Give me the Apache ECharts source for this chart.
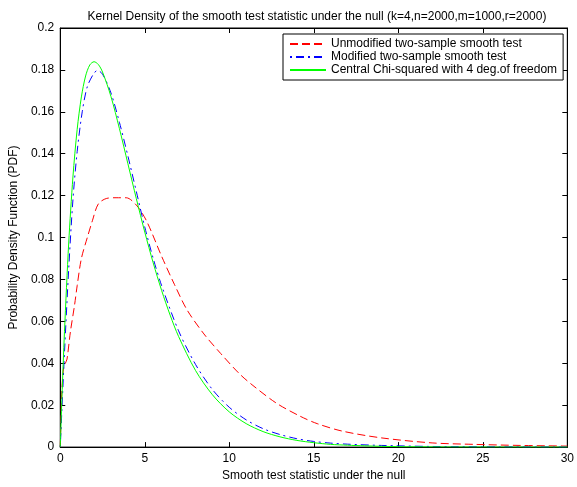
<!DOCTYPE html>
<html>
<head>
<meta charset="utf-8">
<script src="https://cdn.jsdelivr.net/npm/echarts@6/dist/echarts.min.js"></script>
<style>
  html, body { margin: 0; padding: 0; background: #fff; }
  #chart { width: 577px; height: 487px; }
</style>
</head>
<body>
<div id="chart"></div>
<script>
// Kernel density estimates of the smooth test statistic under the null
const titleText = 'Kernel Density of the smooth test statistic under the null (k=4,n=2000,m=1000,r=2000)';
const xName = 'Smooth test statistic under the null';
const yName = 'Probability Density Function (PDF)';
const seriesNames = [
  'Unmodified two-sample smooth test',
  'Modified two-sample smooth test',
  'Central Chi-squared with 4 deg.of freedom'
];

// Unmodified two-sample smooth test
const unmodX = [0, 0.05, 0.1, 0.2, 0.3, 0.4, 0.6, 0.85, 1.0, 1.25, 1.6, 1.9, 2.25, 2.75, 3.3, 3.9, 4.5, 5.1, 6.0, 6.75, 7.5, 8.5, 9.5, 10.6, 11.4, 12.8, 14.2, 15.2, 16.7, 19.0, 22.0, 24.5, 27.2, 30];
const unmodY = [0, 0.015, 0.028, 0.038, 0.040, 0.042, 0.055, 0.068, 0.077, 0.090, 0.100, 0.108, 0.116, 0.1187, 0.119, 0.119, 0.1155, 0.108, 0.0910, 0.0777, 0.0655, 0.0540, 0.0446, 0.0350, 0.0294, 0.0209, 0.0147, 0.0112, 0.0076, 0.0044, 0.0020, 0.0013, 0.0008, 0.0005];

// Modified two-sample smooth test
const modX = [0, 0.25, 0.5, 0.75, 1.0, 1.3, 1.6, 2.0, 2.2, 2.5, 3.0, 3.5, 4.0, 4.5, 5.0, 5.5, 6.0, 7.0, 8.0, 9.0, 10, 11, 12, 13, 14, 15, 16, 17, 19, 22, 26, 30];
const modY = [0, 0.045, 0.085, 0.118, 0.141, 0.160, 0.172, 0.1785, 0.1797, 0.178, 0.169, 0.155, 0.139, 0.122, 0.105, 0.090, 0.077, 0.0555, 0.0395, 0.0275, 0.019, 0.013, 0.0088, 0.0060, 0.0040, 0.0027, 0.0019, 0.0014, 0.0008, 0.0003, 0.0001, 0];

// Central chi-squared, 4 degrees of freedom
const chiX = [0, 0.1, 0.25, 0.5, 0.75, 1.0, 1.25, 1.5, 1.75, 2.0, 2.25, 2.5, 3.0, 3.5, 4.0, 4.5, 5.0, 5.5, 6.0, 6.5, 7, 8, 9, 10, 11, 12, 13, 14, 15, 16, 17, 18, 20, 22, 25, 30];
const chiY = [0, 0.0238, 0.0551, 0.0974, 0.1289, 0.1516, 0.1671, 0.1771, 0.1824, 0.1839, 0.1826, 0.1790, 0.1673, 0.1520, 0.1353, 0.1186, 0.1026, 0.0879, 0.0747, 0.0630, 0.0528, 0.0366, 0.0250, 0.0168, 0.0112, 0.0074, 0.0049, 0.0032, 0.0021, 0.0013, 0.0009, 0.0006, 0.0002, 0.0001, 0.00002, 0];

const zip = (xs, ys) => xs.map((x, i) => [x, ys[i]]);

const font = 'Liberation Sans, Arial, sans-serif';
const black = '#000';
const fs = 12;

const baseX = {
  type: 'value', min: 0, max: 30, interval: 5,
  splitLine: { show: false },
  axisLine: { show: true, onZero: false, lineStyle: { color: black, width: 1 } },
  axisTick: { show: true, inside: true, length: 5, lineStyle: { color: black } }
};
const baseY = {
  type: 'value', min: 0, max: 0.2, interval: 0.02,
  splitLine: { show: false },
  axisLine: { show: true, onZero: false, lineStyle: { color: black, width: 1 } },
  axisTick: { show: true, inside: true, length: 5, lineStyle: { color: black } }
};

const chart = echarts.init(document.getElementById('chart'), null, { renderer: 'canvas' });
chart.setOption({
  backgroundColor: '#fff',
  animation: false,
  title: {
    text: titleText,
    left: 312, textAlign: 'center', top: 6,
    textStyle: { fontFamily: font, fontSize: fs, fontWeight: 'normal', color: black }
  },
  grid: { left: 58, right: 6, top: 28, bottom: 36, show: true, borderColor: black, borderWidth: 1 },
  legend: {
    orient: 'vertical',
    left: 283, top: 34,
    padding: [4, 6, 4, 6],
    itemGap: 1,
    itemWidth: 36, itemHeight: 13,
    backgroundColor: '#fff',
    borderColor: black, borderWidth: 1, borderRadius: 0,
    itemStyle: { opacity: 0 },
    textStyle: { fontFamily: font, fontSize: fs, color: black },
    data: seriesNames
  },
  xAxis: [
    Object.assign({}, baseX, {
      position: 'bottom',
      name: xName, nameLocation: 'middle', nameGap: 21,
      nameTextStyle: { fontFamily: font, fontSize: fs, color: black },
      axisLabel: { fontFamily: font, fontSize: fs, color: black, margin: 6 }
    }),
    Object.assign({}, baseX, { position: 'top', axisLabel: { show: false } })
  ],
  yAxis: [
    Object.assign({}, baseY, {
      position: 'left',
      name: yName, nameLocation: 'middle', nameGap: 31,
      nameTextStyle: { fontFamily: font, fontSize: fs, color: black },
      axisLabel: { fontFamily: font, fontSize: fs, color: black, margin: 6 }
    }),
    Object.assign({}, baseY, { position: 'right', axisLabel: { show: false } })
  ],
  series: [
    {
      name: seriesNames[0], type: 'line', data: zip(unmodX, unmodY),
      smooth: 0.3, symbol: 'none', clip: true,
      lineStyle: { color: '#ff0000', width: 1, type: [8, 4] },
      itemStyle: { color: '#ff0000' }
    },
    {
      name: seriesNames[1], type: 'line', data: zip(modX, modY),
      smooth: 0.3, symbol: 'none', clip: true,
      lineStyle: { color: '#0000ff', width: 1, type: [2, 4, 8, 4] },
      itemStyle: { color: '#0000ff' }
    },
    {
      name: seriesNames[2], type: 'line', data: zip(chiX, chiY),
      smooth: 0.3, symbol: 'none', clip: true,
      lineStyle: { color: '#00ff00', width: 1, type: 'solid' },
      itemStyle: { color: '#00ff00' }
    }
  ]
});
</script>
</body>
</html>
